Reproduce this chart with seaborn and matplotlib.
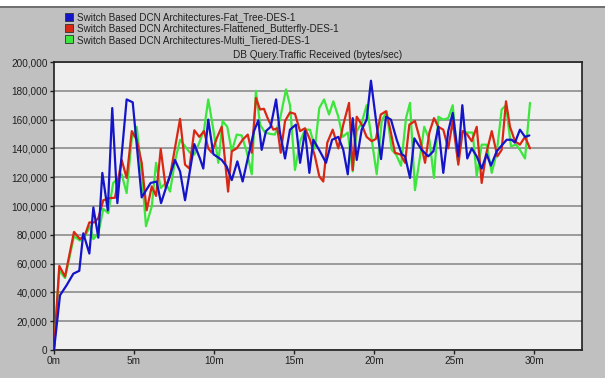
import numpy as np
import pandas as pd
import matplotlib
matplotlib.use("Agg")
import matplotlib.pyplot as plt
from matplotlib.lines import Line2D
from matplotlib.ticker import FuncFormatter, MultipleLocator
import seaborn as sns

series_names = [
    "Switch Based DCN Architectures-Fat_Tree-DES-1",
    "Switch Based DCN Architectures-Flattened_Butterfly-DES-1",
    "Switch Based DCN Architectures-Multi_Tiered-DES-1",
]

fat_tree_t = [0, 0.375, 0.79, 1.21, 1.58, 1.83, 2.21, 2.46, 2.77, 3.02, 3.36, 3.64, 3.96, 4.54, 4.92,
              5.48, 6.04, 6.42, 6.69, 7.56, 7.88, 8.19, 8.77, 9.12, 9.33, 9.64, 9.96, 10.48, 10.79,
              11.11, 11.46, 11.79, 12.14, 12.5, 12.77, 12.98, 13.25, 13.54, 13.88, 14.12, 14.44,
              14.75, 15.12, 15.38, 15.69, 15.96, 16.21, 16.62, 17.0, 17.38, 17.77, 18.08, 18.36,
              18.67, 18.92, 19.23, 19.54, 19.81, 20.12, 20.44, 20.75, 21.06, 21.42, 21.73, 21.94,
              22.25, 22.52, 22.98, 23.39, 23.71, 24.02, 24.33, 24.64, 24.92, 25.27, 25.52, 25.83,
              26.11, 26.42, 26.73, 27.04, 27.31, 27.67, 28.29, 28.61, 28.81, 29.12, 29.44, 29.71]
fat_tree_v = [0, 38000, 45000, 53000, 55000, 81000, 67000, 99000, 78000, 123000, 97000, 168000,
              102000, 174000, 172000, 106000, 116000, 117000, 102000, 132000, 124000, 104000,
              143000, 133000, 126000, 160000, 136000, 132000, 127500, 118000, 131000, 117000,
              134500, 152000, 159500, 139000, 152000, 155000, 174000, 151000, 133000, 153000,
              156500, 130000, 152000, 123000, 146000, 138000, 130000, 146000, 148000, 139000,
              122000, 161000, 132000, 153000, 160000, 187000, 160000, 132600, 162000, 160000,
              146000, 136000, 134500, 119500, 147000, 139000, 134500, 138000, 155000, 123000,
              152000, 164700, 134500, 170000, 133000, 140000, 134500, 126000, 136000, 128000,
              138000, 146000, 146000, 144000, 153000, 148000, 149000]

butterfly_t = [0, 0.33, 0.69, 1.25, 1.62, 1.94, 2.21, 2.52, 2.77, 3.08, 3.5, 3.81, 4.23, 4.54, 4.86,
               5.17, 5.48, 5.79, 6.11, 6.38, 6.67, 6.98, 7.25, 7.88, 8.19, 8.46, 8.77, 9.08, 9.38,
               9.64, 9.86, 10.17, 10.48, 10.88, 11.11, 11.42, 11.79, 12.11, 12.36, 12.62, 12.88,
               13.12, 13.39, 13.71, 13.96, 14.17, 14.44, 14.75, 15.06, 15.38, 15.69, 16.0, 16.31,
               16.58, 16.83, 17.08, 17.42, 17.77, 18.08, 18.44, 18.67, 18.92, 19.23, 19.54, 19.86,
               20.12, 20.42, 20.75, 21.0, 21.31, 21.67, 21.94, 22.21, 22.56, 22.88, 23.19, 23.46,
               23.75, 24.02, 24.33, 24.64, 24.92, 25.27, 25.54, 25.83, 26.11, 26.42, 26.73, 27.0,
               27.36, 27.71, 27.98, 28.25, 28.5, 28.81, 29.12, 29.44, 29.75]
butterfly_v = [0, 58400, 51000, 82000, 77000, 80000, 88600, 88600, 91600, 104000, 105500, 105700,
               132000, 119500, 152000, 146000, 130000, 97000, 113600, 107000, 139600, 113000,
               120600, 160500, 128700, 126000, 152600, 148000, 152000, 140000, 137000, 147000,
               155000, 110000, 138000, 140000, 146000, 149600, 137000, 175000, 167000, 167500,
               160000, 153000, 154000, 137000, 159000, 165000, 164000, 152000, 154000, 146000,
               134500, 120600, 117000, 144000, 153000, 140000, 156500, 171600, 125000, 162000,
               156500, 148000, 145000, 146600, 163500, 165800, 154000, 137000, 135700, 130000,
               156500, 159000, 146000, 130000, 151000, 161000, 155000, 153000, 140000, 159000,
               128700, 152000, 149600, 145000, 155000, 116000, 135700, 152000, 134500, 139000,
               172700, 155000, 145000, 142600, 148000, 140000]

multi_t = [0, 0.33, 0.69, 1.25, 1.62, 1.94, 2.25, 2.46, 2.77, 3.08, 3.39, 3.7, 4.23, 4.54, 4.86,
           5.17, 5.48, 5.75, 6.11, 6.38, 6.67, 6.98, 7.25, 7.56, 7.88, 8.19, 8.5, 8.77, 9.08, 9.38,
           9.64, 9.96, 10.27, 10.54, 10.83, 11.11, 11.42, 11.73, 12.04, 12.36, 12.62, 12.88, 13.19,
           13.54, 13.81, 14.12, 14.5, 14.75, 15.06, 15.38, 15.69, 16.0, 16.31, 16.58, 16.88, 17.19,
           17.46, 17.77, 18.04, 18.36, 18.67, 18.92, 19.23, 19.54, 19.86, 20.17, 20.48, 20.79,
           21.11, 21.38, 21.69, 22.0, 22.25, 22.56, 22.88, 23.14, 23.46, 23.75, 24.02, 24.33,
           24.64, 24.92, 25.23, 25.54, 25.83, 26.17, 26.42, 26.73, 27.04, 27.36, 27.67, 27.98,
           28.25, 28.56, 28.88, 29.12, 29.44, 29.75]
multi_v = [0, 55000, 50000, 79000, 76000, 79000, 86000, 77000, 81000, 98000, 95000, 116000, 122000,
           109000, 147000, 155000, 123000, 86000, 99700, 130000, 112500, 116000, 110000, 131000,
           146000, 141500, 137000, 135700, 144000, 153000, 174000, 153000, 130000, 159000, 155000,
           138000, 149600, 149000, 138000, 122000, 180000, 156500, 151000, 150000, 149600, 160000,
           181000, 170000, 125000, 145000, 153000, 153000, 140000, 168000, 174000, 163500, 172700,
           162000, 148000, 151000, 124000, 152000, 157700, 170000, 146000, 122000, 159000, 165800,
           139000, 135700, 128000, 161000, 171600, 111000, 134500, 155000, 146000, 119500, 162000,
           160000, 161000, 170000, 132000, 152000, 151000, 151000, 120600, 142600, 142600, 123000,
           137000, 167000, 170000, 141500, 142600, 139000, 133000, 171600]

x_ticks = [0, 5, 10, 15, 20, 25, 30]
x_tick_labels = ["0m", "5m", "10m", "15m", "20m", "25m", "30m"]
chart_title = "DB Query.Traffic Received (bytes/sec)"

colors = {series_names[0]: "#1414c8", series_names[1]: "#d82814", series_names[2]: "#3ce63c"}

frames = []
for name, t, v in [(series_names[2], multi_t, multi_v),
                   (series_names[1], butterfly_t, butterfly_v),
                   (series_names[0], fat_tree_t, fat_tree_v)]:
    frames.append(pd.DataFrame({"time": t, "value": v, "series": name}))
df = pd.concat(frames, ignore_index=True)

sns.set_style("white")
plt.rcParams["font.family"] = ["Liberation Sans", "DejaVu Sans"]

fig = plt.figure(figsize=(6.05, 3.78), dpi=100)
fig.patch.set_facecolor("#c0c0c0")
fig.patches.append(matplotlib.patches.Rectangle((0, 1 - 6 / 378), 1, 6 / 378, transform=fig.transFigure,
                                                facecolor="white", edgecolor="none", zorder=0))
fig.lines.append(Line2D([0, 1], [1 - 6.5 / 378, 1 - 6.5 / 378], transform=fig.transFigure,
                        color="#606060", linewidth=1.2))

ax = fig.add_axes([54 / 605, 1 - 350 / 378, (582 - 54) / 605, (350 - 62) / 378])
ax.set_facecolor("#efefef")

for name in [series_names[2], series_names[1], series_names[0]]:
    sub = df[df["series"] == name]
    sns.lineplot(data=sub, x="time", y="value", color=colors[name], linewidth=1.6,
                 estimator=None, sort=True, ax=ax, legend=False, zorder=3)

ax.set_xlim(0, 33)
ax.set_ylim(0, 200000)
ax.yaxis.set_major_locator(MultipleLocator(20000))
ax.yaxis.set_major_formatter(FuncFormatter(lambda v, p: f"{int(v):,}"))
ax.set_xticks(x_ticks)
ax.set_xticklabels(x_tick_labels)
ax.grid(axis="y", color="#8c8c8c", linewidth=1.2, zorder=1)
ax.grid(axis="x", visible=False)
ax.set_axisbelow(True)
ax.set_xlabel("")
ax.set_ylabel("")
for s in ax.spines.values():
    s.set_color("#202020")
    s.set_linewidth(1.2)
ax.tick_params(axis="both", direction="out", length=3, width=1, color="#202020",
               labelsize=7.2, labelcolor="#202020", pad=1.5, left=True, bottom=True)

fig.text(318 / 605, 1 - 55.5 / 378, chart_title, ha="center", va="center", fontsize=7.2, color="#202020")

handles = [Line2D([0], [0], marker="s", linestyle="none", markersize=6,
                  markerfacecolor=colors[n], markeredgecolor="#303030", markeredgewidth=0.6)
           for n in series_names]
fig.legend(handles, series_names, loc="upper left", bbox_to_anchor=(60 / 605, 1 - 7.5 / 378),
           frameon=False, fontsize=7.1, handletextpad=0.3, labelspacing=0.12, borderpad=0,
           handlelength=0.9, labelcolor="#202020")

fig.savefig("out.png", dpi=100, facecolor=fig.get_facecolor())
